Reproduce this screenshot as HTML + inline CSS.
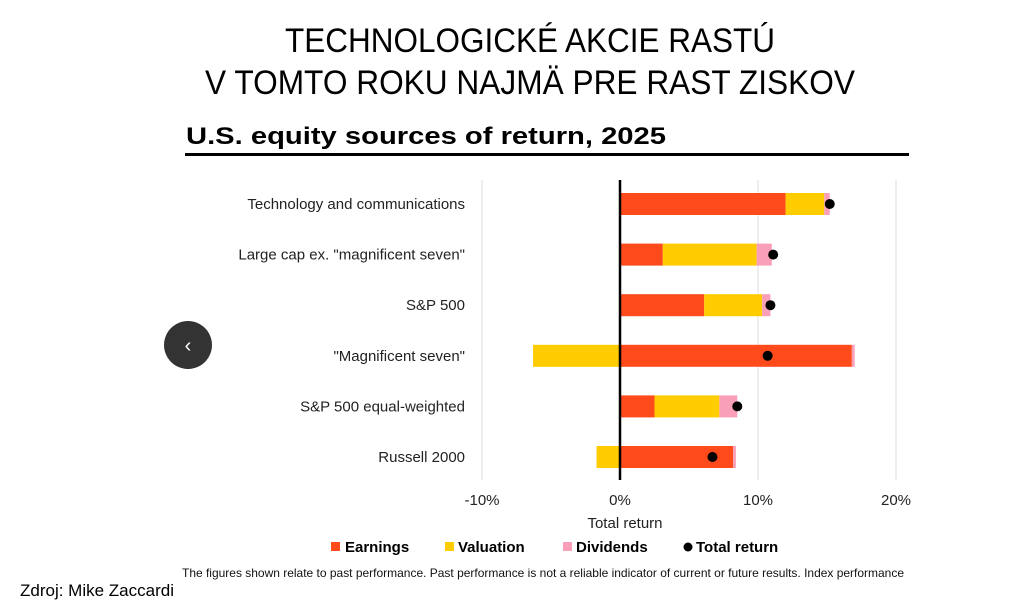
<!DOCTYPE html>
<html><head><meta charset="utf-8"><style>
body{margin:0;background:#fff;width:1033px;height:604px;overflow:hidden;font-family:"Liberation Sans",sans-serif}
svg{position:absolute;left:0;top:0}
</style></head><body>
<svg id="c" width="1033" height="604">
<text x="530" y="52" text-anchor="middle" font-size="34" textLength="490" lengthAdjust="spacingAndGlyphs">TECHNOLOGICKÉ AKCIE RASTÚ</text>
<text x="530" y="94" text-anchor="middle" font-size="34" textLength="650" lengthAdjust="spacingAndGlyphs">V TOMTO ROKU NAJMÄ PRE RAST ZISKOV</text>
<text x="186" y="144" font-size="24" font-weight="bold" textLength="480" lengthAdjust="spacingAndGlyphs">U.S. equity sources of return, 2025</text>
<rect x="185" y="153" width="724" height="3" fill="#000"/>
<g id="grid"></g><g id="bars"></g><g id="zero"></g>
<text x="625" y="528" text-anchor="middle" font-size="15" fill="#222">Total return</text>
<g font-size="15" font-weight="bold">
<rect x="331" y="542" width="9" height="9" fill="#ff4a1c"/><text x="345" y="552">Earnings</text>
<rect x="445" y="542" width="9" height="9" fill="#ffcc00"/><text x="458" y="552">Valuation</text>
<rect x="563" y="542" width="9" height="9" fill="#f9a0b8"/><text x="576" y="552">Dividends</text>
<circle cx="688" cy="547" r="4.5" fill="#000"/><text x="696" y="552">Total return</text>
</g>
<text x="182" y="577" font-size="12" fill="#111" textLength="722" lengthAdjust="spacingAndGlyphs">The figures shown relate to past performance. Past performance is not a reliable indicator of current or future results. Index performance</text>
<text x="20" y="596" font-size="17" fill="#000">Zdroj: Mike Zaccardi</text>
<circle cx="188" cy="345" r="24" fill="#333"/>
<text x="188" y="352" text-anchor="middle" font-size="20" fill="#fff">‹</text>
</svg>
<script>
const categories=["Technology and communications","Large cap ex. \"magnificent seven\"","S&P 500","\"Magnificent seven\"","S&P 500 equal-weighted","Russell 2000"];
const earnings=[12.0,3.1,6.1,16.8,2.5,8.2];
const valuation=[2.8,6.8,4.2,-6.3,4.7,-1.7];
const dividends=[0.4,1.1,0.6,0.2,1.3,0.2];
const totalReturn=[15.2,11.1,10.9,10.7,8.5,6.7];
const ticks=[-10,0,10,20];
const tickLabels=["-10%","0%","10%","20%"];
const NS="http://www.w3.org/2000/svg";
const x=v=>620+v*13.8;
const y=i=>204+i*50.6;
function mk(t,a,p){const e=document.createElementNS(NS,t);for(const k in a)e.setAttribute(k,a[k]);p.appendChild(e);return e;}
const grid=document.getElementById('grid'),bars=document.getElementById('bars'),zero=document.getElementById('zero');
ticks.forEach((t,i)=>{
 const l=mk('line',{x1:x(t),x2:x(t),y1:180,y2:480,stroke:t===0?'#000':'#ddd','stroke-width':t===0?2.5:1},t===0?zero:grid);
 
 
 const tx=mk('text',{x:x(t),y:505,'text-anchor':'middle','font-size':15,fill:'#222'},grid);
 tx.textContent=tickLabels[i];
 
 
});
const colors={earnings:'#ff4a1c',valuation:'#ffcc00',dividends:'#f9a0b8'};
categories.forEach((c,i)=>{
 const cy=y(i);
 const lb=mk('text',{x:465,y:cy+5,'text-anchor':'end','font-size':15,fill:'#222'},bars);
 lb.textContent=c;
 
 
 let pos=0,neg=0;
 [['earnings',earnings[i]],['valuation',valuation[i]],['dividends',dividends[i]]].forEach(([k,v])=>{
  let a,b;
  if(v>=0){a=pos;b=pos+v;pos=b;}else{a=neg+v;b=neg;neg=a;}
  const r=mk('rect',{x:x(a),y:cy-11,width:x(b)-x(a),height:22,fill:colors[k]},bars);
  
  
 });
});
categories.forEach((c,i)=>{
 const d=mk('circle',{cx:x(totalReturn[i]),cy:y(i),r:5,fill:'#000'},zero);
 
 
});
</script>
</body></html>
